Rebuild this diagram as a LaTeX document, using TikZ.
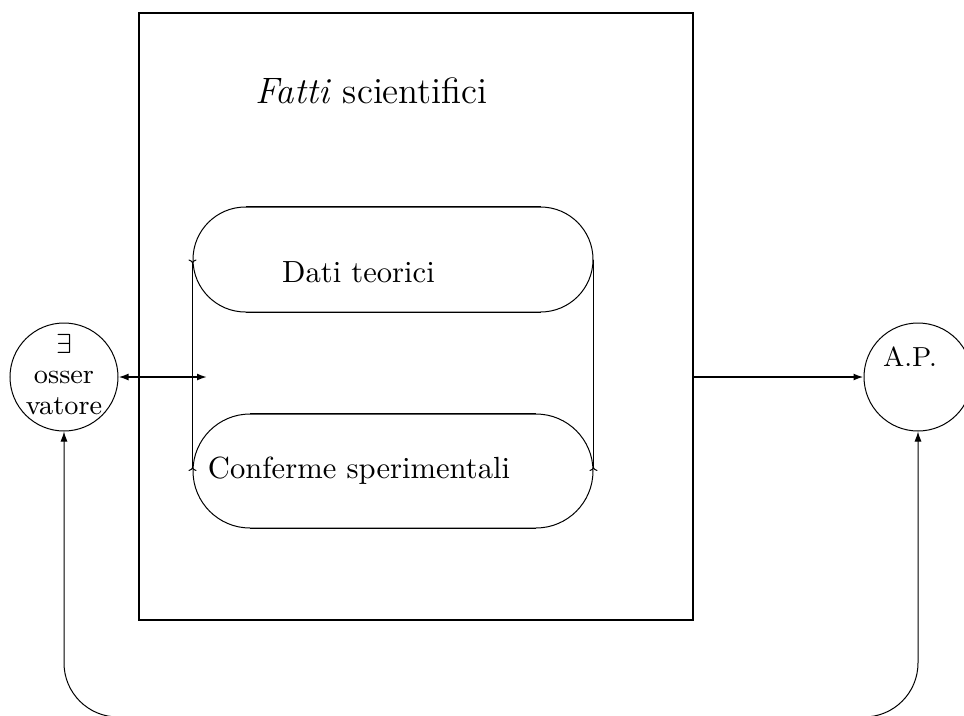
\documentclass[tikz,border=0pt]{standalone}
\usepackage{graphicx}
\usetikzlibrary{arrows.meta,shapes.misc}
\newcommand\sbx[1]{\scalebox{3.06}{#1}}
\begin{document}
\begin{tikzpicture}[x=1pt,y=-1pt,
  lthin/.style={line width=1pt},
  lthick/.style={line width=1.7pt},
  txt/.style={inner sep=0pt},
  mytip/.tip={Latex[length=10pt,width=7pt]},
  stad/.style={rounded rectangle, draw, line width=1pt, minimum width=400pt, inner sep=0pt},
  ring/.style={circle, draw, lthin, minimum size=108pt, inner sep=0pt}]
\useasboundingbox (0,0) rectangle (964,715);
% main box
\node[draw, lthick, minimum width=554pt, minimum height=607pt, inner sep=0pt, outer sep=0pt] (box) at (416,316.5) {};
\node[txt, anchor=base] (title) at (371.5,103) {\sbx{\large\textit{Fatti} scientifici}};
% inner rounded boxes
\node[stad, minimum height=105pt] (dati) at (393,259.5) {};
\node[stad, minimum height=114pt] (conf) at (393,471) {};
\draw[lthick] (dati.north west) -- (dati.north east);
\draw[lthick] (dati.south west) -- (dati.south east);
\draw[lthick] (conf.north west) -- (conf.north east);
\draw[lthick] (conf.south west) -- (conf.south east);
\node[txt, anchor=base] (datit) at (358.5,282) {\sbx{Dati teorici}};
\node[txt, anchor=base] (conft) at (359,478) {\sbx{Conferme sperimentali}};
\draw[lthin, >-<] (dati.west) -- (conf.west);
\draw[lthin, -<] (dati.east) -- (conf.east);
% circles
\node[ring] (obs) at (64,377) {};
\node[ring] (ap) at (918,377) {};
\node[txt, anchor=base] (obst) at (64,353) {\sbx{\small\renewcommand\arraystretch{0.91}\begin{tabular}[t]{@{}c@{}}$\exists$\\osser\\vatore\end{tabular}}};
\node[txt, anchor=base] (apt) at (910,366) {\sbx{\small A.P.}};
% connectors
\coordinate (dl) at (207,377);
\draw[lthick, mytip-mytip] (obs.east) -- (dl);
\draw[lthick, -mytip] (box.east |- ap.west) -- (ap.west);
\draw[lthin, mytip-mytip, rounded corners=54pt] (obs.south) -- (64,717) -- (918,717) -- (ap.south);
\end{tikzpicture}
\end{document}
